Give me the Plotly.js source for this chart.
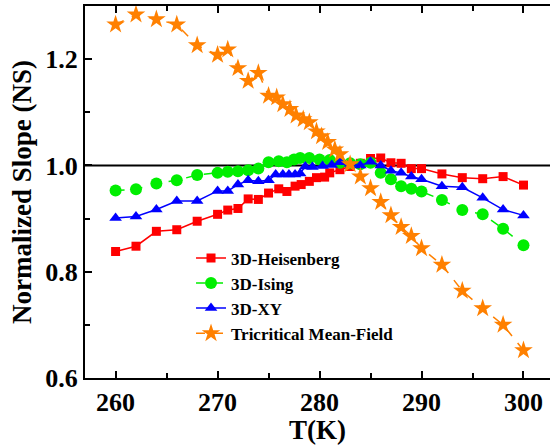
<!DOCTYPE html>
<html>
<head>
<meta charset="utf-8">
<script src="https://cdn.plot.ly/plotly-3.0.1.min.js"></script>
<style>html,body{margin:0;padding:0;background:#fff;}#chart{width:550px;height:445px;}</style>
</head>
<body>
<div id="chart"></div>
<script>
// 3D-Heisenberg
const T_heis = [260,262,264,266,268,270,271,272,273,274,275,276,276.8,277.6,278.2,279,279.7,280.5,281,282,283,284,285,286,287,288,289,290,292,294,296,298,300];
const NS_heis = [0.838,0.848,0.876,0.879,0.895,0.908,0.916,0.919,0.937,0.936,0.948,0.956,0.951,0.961,0.964,0.970,0.977,0.978,0.986,0.992,0.998,1.004,1.013,1.014,1.005,1.004,0.994,0.994,0.984,0.977,0.975,0.979,0.963];
// 3D-Ising
const T_ising = [260,262,264,266,268,270,271,272,273,274,275,276,276.8,277.5,278.1,279,280,281,282,283,284,285,286,287,288,289,290,292,294,296,298,300];
const NS_ising = [0.953,0.955,0.966,0.972,0.982,0.986,0.988,0.989,0.991,0.994,1.006,1.008,1.006,1.011,1.014,1.014,1.011,1.010,1.005,1.004,1.002,1.005,0.986,0.974,0.961,0.956,0.951,0.935,0.916,0.908,0.881,0.850];
// 3D-XY
const T_xy = [260,262,264,266,268,270,271,272,273,274,275,275.7,276.4,277,277.6,278.1,278.6,279.3,280.3,281.2,282,283,284,285,286,287,288,289,290,292,294,296,298,300];
const NS_xy = [0.901,0.904,0.917,0.933,0.933,0.952,0.952,0.964,0.972,0.970,0.972,0.983,0.983,0.983,0.983,0.985,0.998,0.997,0.999,1.001,1.006,1.003,1.000,1.007,1.000,0.990,0.986,0.979,0.974,0.961,0.959,0.939,0.917,0.906];
// Tricritical Mean-Field
const T_tmf = [260,262,264,266,268,270,271,272,273,274,275,275.8,276.4,277.1,277.7,278.4,279,279.7,280.2,280.8,281.5,282,283,284,285,286,287,288,289,290,292,294,296,298,300];
const NS_tmf = [1.265,1.284,1.275,1.265,1.226,1.208,1.218,1.183,1.159,1.174,1.131,1.128,1.115,1.106,1.094,1.087,1.081,1.064,1.055,1.044,1.030,1.021,1.002,0.979,0.957,0.931,0.906,0.884,0.867,0.844,0.813,0.764,0.731,0.700,0.652];

const seriesNames = ['3D-Heisenberg','3D-Ising','3D-XY','Tricritical Mean-Field'];
const xTickVals = [260,270,280,290,300];
const yTickVals = [0.6,0.8,1.0,1.2];
const refLevel = 1.0;

const F = 'Liberation Serif';

const traces = [
  {x:T_heis, y:NS_heis, name:seriesNames[0], mode:'lines+markers',
   line:{color:'#FF0000', width:1.5},
   marker:{symbol:'square', size:9, color:'#FF0000'}},
  {x:T_ising, y:NS_ising, name:seriesNames[1], mode:'lines+markers',
   line:{color:'#00EE00', width:1.5, dash:'dash'},
   marker:{symbol:'circle', size:12, color:'#00EE00'}},
  {x:T_xy, y:NS_xy, name:seriesNames[2], mode:'lines+markers',
   line:{color:'#0000FF', width:1.5},
   marker:{symbol:'triangle-up', size:11, color:'#0000FF'}},
  {x:T_tmf, y:NS_tmf, name:seriesNames[3], mode:'lines+markers',
   line:{color:'#FF8000', width:1.5, dash:'dash'},
   marker:{symbol:'star', size:14, color:'#FF8000'}}
];

const layout = {
  width:550, height:445,
  margin:{l:85, r:0, t:6, b:67},
  paper_bgcolor:'#fff', plot_bgcolor:'#fff',
  font:{family:F, color:'#000'},
  showlegend:true,
  legend:{x:0.228, y:0.37, xanchor:'left', yanchor:'top',
    font:{family:F, size:17, weight:'bold', color:'#000'},
    bgcolor:'rgba(0,0,0,0)', tracegroupgap:0},
  xaxis:{range:[257.0, 302.6], showline:true, linecolor:'#000', linewidth:2, mirror:'ticks',
    ticks:'inside', ticklen:7, tickwidth:2, tickcolor:'#000',
    tickvals:xTickVals, showgrid:false, zeroline:false,
    minor:{dtick:5, ticks:'inside', ticklen:5, tickwidth:2, tickcolor:'#000', showgrid:false},
    tickfont:{family:F, size:26, weight:'bold'},
    title:{text:'T(K)', font:{family:F, size:27, weight:'bold'}, standoff:8}},
  yaxis:{range:[0.6, 1.3], showline:true, linecolor:'#000', linewidth:2, mirror:false,
    ticks:'inside', ticklen:7, tickwidth:2, tickcolor:'#000',
    tickvals:yTickVals, tickformat:'.1f', showgrid:false, zeroline:false,
    minor:{dtick:0.1, ticks:'inside', ticklen:5, tickwidth:2, tickcolor:'#000', showgrid:false},
    tickfont:{family:F, size:26, weight:'bold'},
    title:{text:'Normalized Slope (NS)', font:{family:F, size:27, weight:'bold'}, standoff:6}},
  shapes:[{type:'line', xref:'paper', yref:'y', x0:0, x1:1, y0:refLevel, y1:refLevel,
    line:{color:'#000', width:2}, layer:'below'}]
};

Plotly.newPlot('chart', traces, layout, {displayModeBar:false, staticPlot:true});
</script>
</body>
</html>
